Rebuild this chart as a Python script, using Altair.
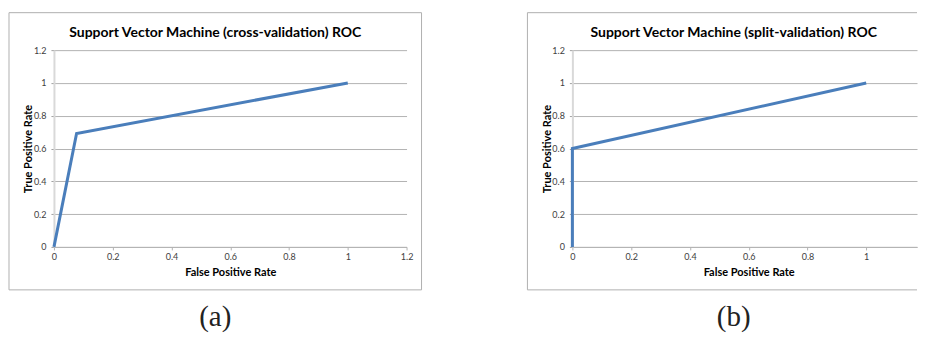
import altair as alt
import pandas as pd

titles = ["Support Vector Machine (cross-validation) ROC",
          "Support Vector Machine (split-validation) ROC"]
captions = ["(a)", "(b)"]

fpr_cv = [0.0, 0.077, 1.0]
tpr_cv = [0.0, 0.692, 1.0]
fpr_sv = [0.0, 0.0, 1.0]
tpr_sv = [0.0, 0.6, 1.0]

tick_values = [0, 0.2, 0.4, 0.6, 0.8, 1.0, 1.2]
axis_max = 1.2

W, H = 353, 197          # full plot area (0..1.2)
W_RIGHT = 345            # right panel is cut by the page edge
BLUE = "#4a7ebb"
FRAME = "#b0b0b0"
GRID = "#b3b3b3"

FL, FR, FT, FB = -45, 368, -37.5, 240   # outer chart-area frame, relative to plot


def panel(fpr, tpr, title, caption, width, closed):
    df = pd.DataFrame({"fpr": fpr, "tpr": tpr, "step": list(range(len(fpr)))})
    meta = pd.DataFrame({"title": [title], "caption": [caption]})
    xmax = axis_max * width / W
    xticks = [v for v in tick_values if v <= xmax + 1e-9]

    x = alt.X("fpr:Q",
              scale=alt.Scale(domain=[0, xmax], nice=False, zero=False),
              axis=alt.Axis(values=xticks, format="~g", title="False Positive Rate",
                            grid=False, domainColor=GRID, domainWidth=1,
                            tickColor=GRID, tickSize=3, labelPadding=3,
                            labelFlush=False, labelOverlap=False,
                            titleBaseline="alphabetic", titleY=29, titleX=W / 2,
                            titleAlign="center", zindex=0))
    y = alt.Y("tpr:Q",
              scale=alt.Scale(domain=[0, axis_max], nice=False, zero=False),
              axis=alt.Axis(values=tick_values, format="~g", title="True Positive Rate",
                            grid=True, gridColor=GRID, gridWidth=1,
                            domainColor="#d9d9d9", domainWidth=2,
                            tickColor="#a0a0a0", tickSize=3, labelPadding=5,
                            labelFlush=False, labelOverlap=False,
                            titleAngle=270, titleBaseline="alphabetic", titleX=-22,
                            zindex=0))

    if closed:
        frame = alt.Chart(meta).mark_rect(fillOpacity=0, stroke=FRAME, strokeWidth=1).encode(
            x=alt.value(FL), x2=alt.value(FR), y=alt.value(FT), y2=alt.value(FB))
        frames = [frame]
    else:
        top = alt.Chart(meta).mark_rule(color=FRAME, strokeWidth=1).encode(
            x=alt.value(FL), x2=alt.value(width), y=alt.value(FT))
        bottom = alt.Chart(meta).mark_rule(color=FRAME, strokeWidth=1).encode(
            x=alt.value(FL), x2=alt.value(width), y=alt.value(FB))
        left = alt.Chart(meta).mark_rule(color=FRAME, strokeWidth=1).encode(
            x=alt.value(FL), y=alt.value(FT), y2=alt.value(FB))
        frames = [top, bottom, left]

    cx = (FL + FR) / 2
    ttl = alt.Chart(meta).mark_text(font="Lato", fontSize=14, fontWeight="bold",
                                    baseline="alphabetic", align="center", color="#000000").encode(
        x=alt.value(cx), y=alt.value(-13), text="title:N")
    cap = alt.Chart(meta).mark_text(font="Liberation Serif", fontSize=29,
                                    baseline="alphabetic", align="center", color="#222222").encode(
        x=alt.value(cx), y=alt.value(276.5), text="caption:N")
    line = alt.Chart(df).mark_line(color=BLUE, strokeWidth=3).encode(
        x=x, y=y, order="step:O")
    return alt.layer(*frames, ttl, cap, line).properties(width=width, height=H)


chart = alt.hconcat(
    panel(fpr_cv, tpr_cv, titles[0], captions[0], W, True),
    panel(fpr_sv, tpr_sv, titles[1], captions[1], W_RIGHT, False),
    spacing=104,
).properties(
    padding={"left": 0, "top": 4, "right": 0, "bottom": 0}
).configure_view(stroke=None).configure_axis(
    labelFont="Lato", labelFontSize=9, labelColor="#404040",
    titleFont="Lato", titleFontSize=11, titleFontWeight="bold", titleColor="#000000",
)

chart.save("out.html", embed_options={"renderer": "svg", "actions": False})
